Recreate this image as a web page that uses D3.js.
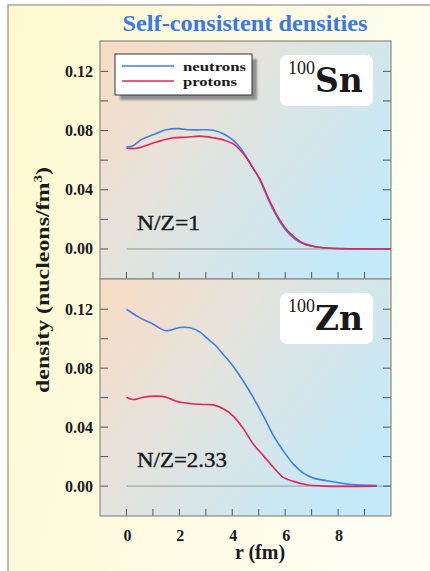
<!DOCTYPE html>
<html>
<head>
<meta charset="utf-8">
<script src="https://cdn.jsdelivr.net/npm/d3@7"></script>
<style>
  html, body { margin: 0; padding: 0; background: #fff; }
  svg { display: block; }
  text { font-family: "Liberation Serif", "DejaVu Serif", serif; font-weight: bold; fill: #1a1a1a; }
</style>
</head>
<body>
<script>
'use strict';

// radius grids (fm) and densities (nucleons/fm^3)
const snNeutronR = [0, 0.25, 0.57, 1.0, 1.5, 1.96, 2.4, 2.9, 3.28, 3.66, 4.04, 4.42, 4.8, 5.05, 5.43, 5.8, 6.19, 6.56, 7.07, 7.7, 8.5, 10];
const snNeutron  = [0.0688, 0.0697, 0.0740, 0.0771, 0.0805, 0.0813, 0.0805, 0.0805, 0.0802, 0.0778, 0.0733, 0.0654, 0.0542, 0.0464, 0.0307, 0.0184, 0.0094, 0.0045, 0.0016, 0.0005, 0.0001, 0.0];
const snProtonR  = [0, 0.38, 1.13, 1.77, 2.27, 2.78, 3.28, 3.66, 4.04, 4.42, 4.8, 5.05, 5.43, 5.8, 6.19, 6.69, 7.3, 8.2, 10];
const snProton   = [0.068, 0.068, 0.0722, 0.0751, 0.0755, 0.0762, 0.0751, 0.0737, 0.0710, 0.0643, 0.0542, 0.047, 0.0318, 0.0195, 0.0105, 0.0038, 0.0011, 0.0002, 0.0];

const znNeutronR = [0, 0.5, 1.01, 1.45, 1.7, 2.02, 2.4, 2.78, 3.03, 3.35, 3.66, 4.04, 4.42, 4.8, 5.18, 5.56, 5.93, 6.31, 6.69, 7.07, 7.58, 8.2, 8.7, 9.46];
const znNeutron  = [0.12, 0.1143, 0.1098, 0.1055, 0.106, 0.1076, 0.1074, 0.1045, 0.1005, 0.0957, 0.0893, 0.0812, 0.0711, 0.0599, 0.0475, 0.034, 0.0238, 0.0149, 0.0088, 0.0054, 0.0036, 0.0018, 0.0008, 0.0004];
const znProtonR  = [0, 0.25, 0.63, 1.14, 1.5, 1.89, 2.4, 2.9, 3.28, 3.66, 4.04, 4.42, 4.8, 5.18, 5.56, 5.93, 6.31, 6.82, 7.45, 9.46];
const znProton   = [0.0603, 0.0587, 0.0603, 0.061, 0.0603, 0.0576, 0.056, 0.0554, 0.0551, 0.0525, 0.0475, 0.039, 0.0284, 0.0205, 0.0126, 0.0059, 0.0032, 0.0009, 0.0, 0.0];

const yTickValues = [0, 0.02, 0.04, 0.06, 0.08, 0.10, 0.12];
const yTickLabels = ["0.00", "0.04", "0.08", "0.12"];
const xTickValues = [0, 1, 2, 3, 4, 5, 6, 7, 8, 9];
const xTickLabels = [0, 2, 4, 6, 8];
const seriesNames = ["neutrons", "protons"];
const seriesColors = ["#3f7fe6", "#e2255a"];

const width = 430, height = 571;
const plotLeft = 100, plotRight = 391;

const svg = d3.select('body').append('svg')
  .attr('width', width)
  .attr('height', height);

const defs = svg.append('defs');

// page background
const bg = defs.append('linearGradient').attr('id', 'bg')
  .attr('x1', 0).attr('y1', 0).attr('x2', 1).attr('y2', 0.3);
bg.append('stop').attr('offset', '0%').attr('stop-color', '#fcf9cf');
bg.append('stop').attr('offset', '100%').attr('stop-color', '#fffef2');

// panel background: peach -> grey -> light blue
const pg = defs.append('linearGradient').attr('id', 'panelbg')
  .attr('x1', 0).attr('y1', 0).attr('x2', 1).attr('y2', 0.6);
pg.append('stop').attr('offset', '0%').attr('stop-color', '#f9dcc4');
pg.append('stop').attr('offset', '42%').attr('stop-color', '#e5e3dc');
pg.append('stop').attr('offset', '100%').attr('stop-color', '#c4e9f8');

const blur = defs.append('filter').attr('id', 'shadow');
blur.append('feGaussianBlur').attr('stdDeviation', 1.2);

svg.append('rect')
  .attr('x', 8).attr('y', 5)
  .attr('width', width - 8).attr('height', height - 5)
  .attr('fill', 'url(#bg)');
svg.append('path')
  .attr('d', 'M8,' + height + 'V5H' + width)
  .attr('fill', 'none')
  .attr('stroke', '#a9a79c')
  .attr('stroke-width', 1.5);

// title
svg.append('text')
  .attr('x', 245).attr('y', 31)
  .attr('text-anchor', 'middle')
  .attr('textLength', 245)
  .attr('lengthAdjust', 'spacingAndGlyphs')
  .style('font-size', '23px')
  .style('fill', '#3a78ea')
  .text('Self-consistent densities');

const xScale = d3.scaleLinear().domain([-1, 10]).range([plotLeft, plotRight]);

function makePanel(top, bottom, neutR, neut, protR, prot, nucleus, ratio, ratioLen, showXLabels) {
  const yScale = d3.scaleLinear().domain([-0.0203, 0.1405]).range([bottom, top]);
  const g = svg.append('g');

  g.append('rect')
    .attr('x', plotLeft).attr('y', top)
    .attr('width', plotRight - plotLeft).attr('height', bottom - top)
    .attr('fill', 'url(#panelbg)');

  // zero line
  g.append('line')
    .attr('x1', xScale(0)).attr('x2', plotRight)
    .attr('y1', yScale(0)).attr('y2', yScale(0))
    .attr('stroke', '#9a9a9a').attr('stroke-width', 1);

  // inward ticks
  const tickColor = '#555';
  g.append('g').selectAll('line').data(yTickValues).enter().append('line')
    .attr('x1', plotLeft).attr('x2', plotLeft + 8)
    .attr('y1', d => yScale(d)).attr('y2', d => yScale(d))
    .attr('stroke', tickColor);
  g.append('g').selectAll('line').data(yTickValues).enter().append('line')
    .attr('x1', plotRight - 8).attr('x2', plotRight)
    .attr('y1', d => yScale(d)).attr('y2', d => yScale(d))
    .attr('stroke', tickColor);
  g.append('g').selectAll('line').data(xTickValues).enter().append('line')
    .attr('x1', d => xScale(d)).attr('x2', d => xScale(d))
    .attr('y1', bottom).attr('y2', bottom - 7)
    .attr('stroke', tickColor);

  g.append('g').selectAll('text').data(yTickLabels).enter().append('text')
    .attr('x', 93)
    .attr('y', d => yScale(+d) + 5.5)
    .attr('text-anchor', 'end')
    .style('font-size', '16px')
    .text(d => d);

  if (showXLabels) {
    g.append('g').selectAll('text').data(xTickLabels).enter().append('text')
      .attr('x', d => xScale(d) + 1)
      .attr('y', 541)
      .attr('text-anchor', 'middle')
      .style('font-size', '16px')
      .text(d => d);
  }

  g.append('rect')
    .attr('x', plotLeft).attr('y', top)
    .attr('width', plotRight - plotLeft).attr('height', bottom - top)
    .attr('fill', 'none')
    .attr('stroke', '#8a8a86').attr('stroke-width', 1.2);

  // curves
  const line = d3.line()
    .x(d => xScale(d[0]))
    .y(d => yScale(d[1]))
    .curve(d3.curveCatmullRom);
  g.append('path')
    .attr('d', line(d3.zip(neutR, neut)))
    .attr('fill', 'none')
    .attr('stroke', seriesColors[0])
    .attr('stroke-width', 1.6);
  g.append('path')
    .attr('d', line(d3.zip(protR, prot)))
    .attr('fill', 'none')
    .attr('stroke', seriesColors[1])
    .attr('stroke-width', 1.6);

  // nucleus label box
  const boxX = 280, boxY = top + 14;
  g.append('rect')
    .attr('x', boxX).attr('y', boxY)
    .attr('width', 93).attr('height', 51)
    .attr('rx', 7)
    .attr('fill', '#fff');
  const lbl = g.append('text')
    .attr('x', boxX + 8).attr('y', boxY + 37);
  lbl.append('tspan')
    .attr('dy', -18)
    .style('font-size', '18px')
    .style('font-weight', 'normal')
    .text('100');
  lbl.append('tspan')
    .attr('dy', 18)
    .style('font-family', '"DejaVu Serif", serif')
    .style('font-size', '33px')
    .text(nucleus);

  g.append('text')
    .attr('x', 137)
    .attr('y', yScale(0) - 19)
    .attr('textLength', ratioLen)
    .attr('lengthAdjust', 'spacingAndGlyphs')
    .style('font-size', '21px')
    .style('font-weight', 'normal')
    .style('stroke', '#1a1a1a')
    .style('stroke-width', 0.4)
    .text(ratio);
}

makePanel(41, 279, snNeutronR, snNeutron, snProtonR, snProton, 'Sn', 'N/Z=1', 63, false);
makePanel(279, 516, znNeutronR, znNeutron, znProtonR, znProton, 'Zn', 'N/Z=2.33', 90, true);

// legend
const lx = 115, ly = 54, lw = 137, lh = 41;
svg.append('rect')
  .attr('x', lx + 5).attr('y', ly + 5)
  .attr('width', lw).attr('height', lh)
  .attr('fill', '#8f8f8f')
  .attr('filter', 'url(#shadow)');
svg.append('rect')
  .attr('x', lx).attr('y', ly)
  .attr('width', lw).attr('height', lh)
  .attr('fill', '#fff')
  .attr('stroke', '#333').attr('stroke-width', 1);
const legendLen = [63, 54];
const legend = svg.append('g').selectAll('g').data(seriesNames).enter().append('g')
  .attr('transform', (d, i) => 'translate(0,' + (ly + 12 + i * 15) + ')');
legend.append('line')
  .attr('x1', 122).attr('x2', 174)
  .attr('stroke', (d, i) => seriesColors[i])
  .attr('stroke-width', 1.6);
legend.append('text')
  .attr('x', 183).attr('y', 4.5)
  .attr('textLength', (d, i) => legendLen[i])
  .attr('lengthAdjust', 'spacingAndGlyphs')
  .style('font-size', '13.5px')
  .text(d => d);

// axis labels
svg.append('text')
  .attr('x', 260).attr('y', 559)
  .attr('text-anchor', 'middle')
  .style('font-size', '20px')
  .text('r (fm)');

const yl = svg.append('text')
  .attr('transform', 'translate(49, 280) rotate(-90)')
  .attr('text-anchor', 'middle')
  .style('font-size', '19px');
yl.append('tspan').text('density (nucleons/fm');
yl.append('tspan').attr('dy', -7).style('font-size', '12px').text('3');
yl.append('tspan').attr('dy', 7).text(')');
// stretch the rotated label to the width seen in the picture
const ylBox = yl.node().getBBox();
yl.attr('transform', 'translate(49, 280) rotate(-90) scale(' + (226 / ylBox.width) + ',1)');
</script>
</body>
</html>
